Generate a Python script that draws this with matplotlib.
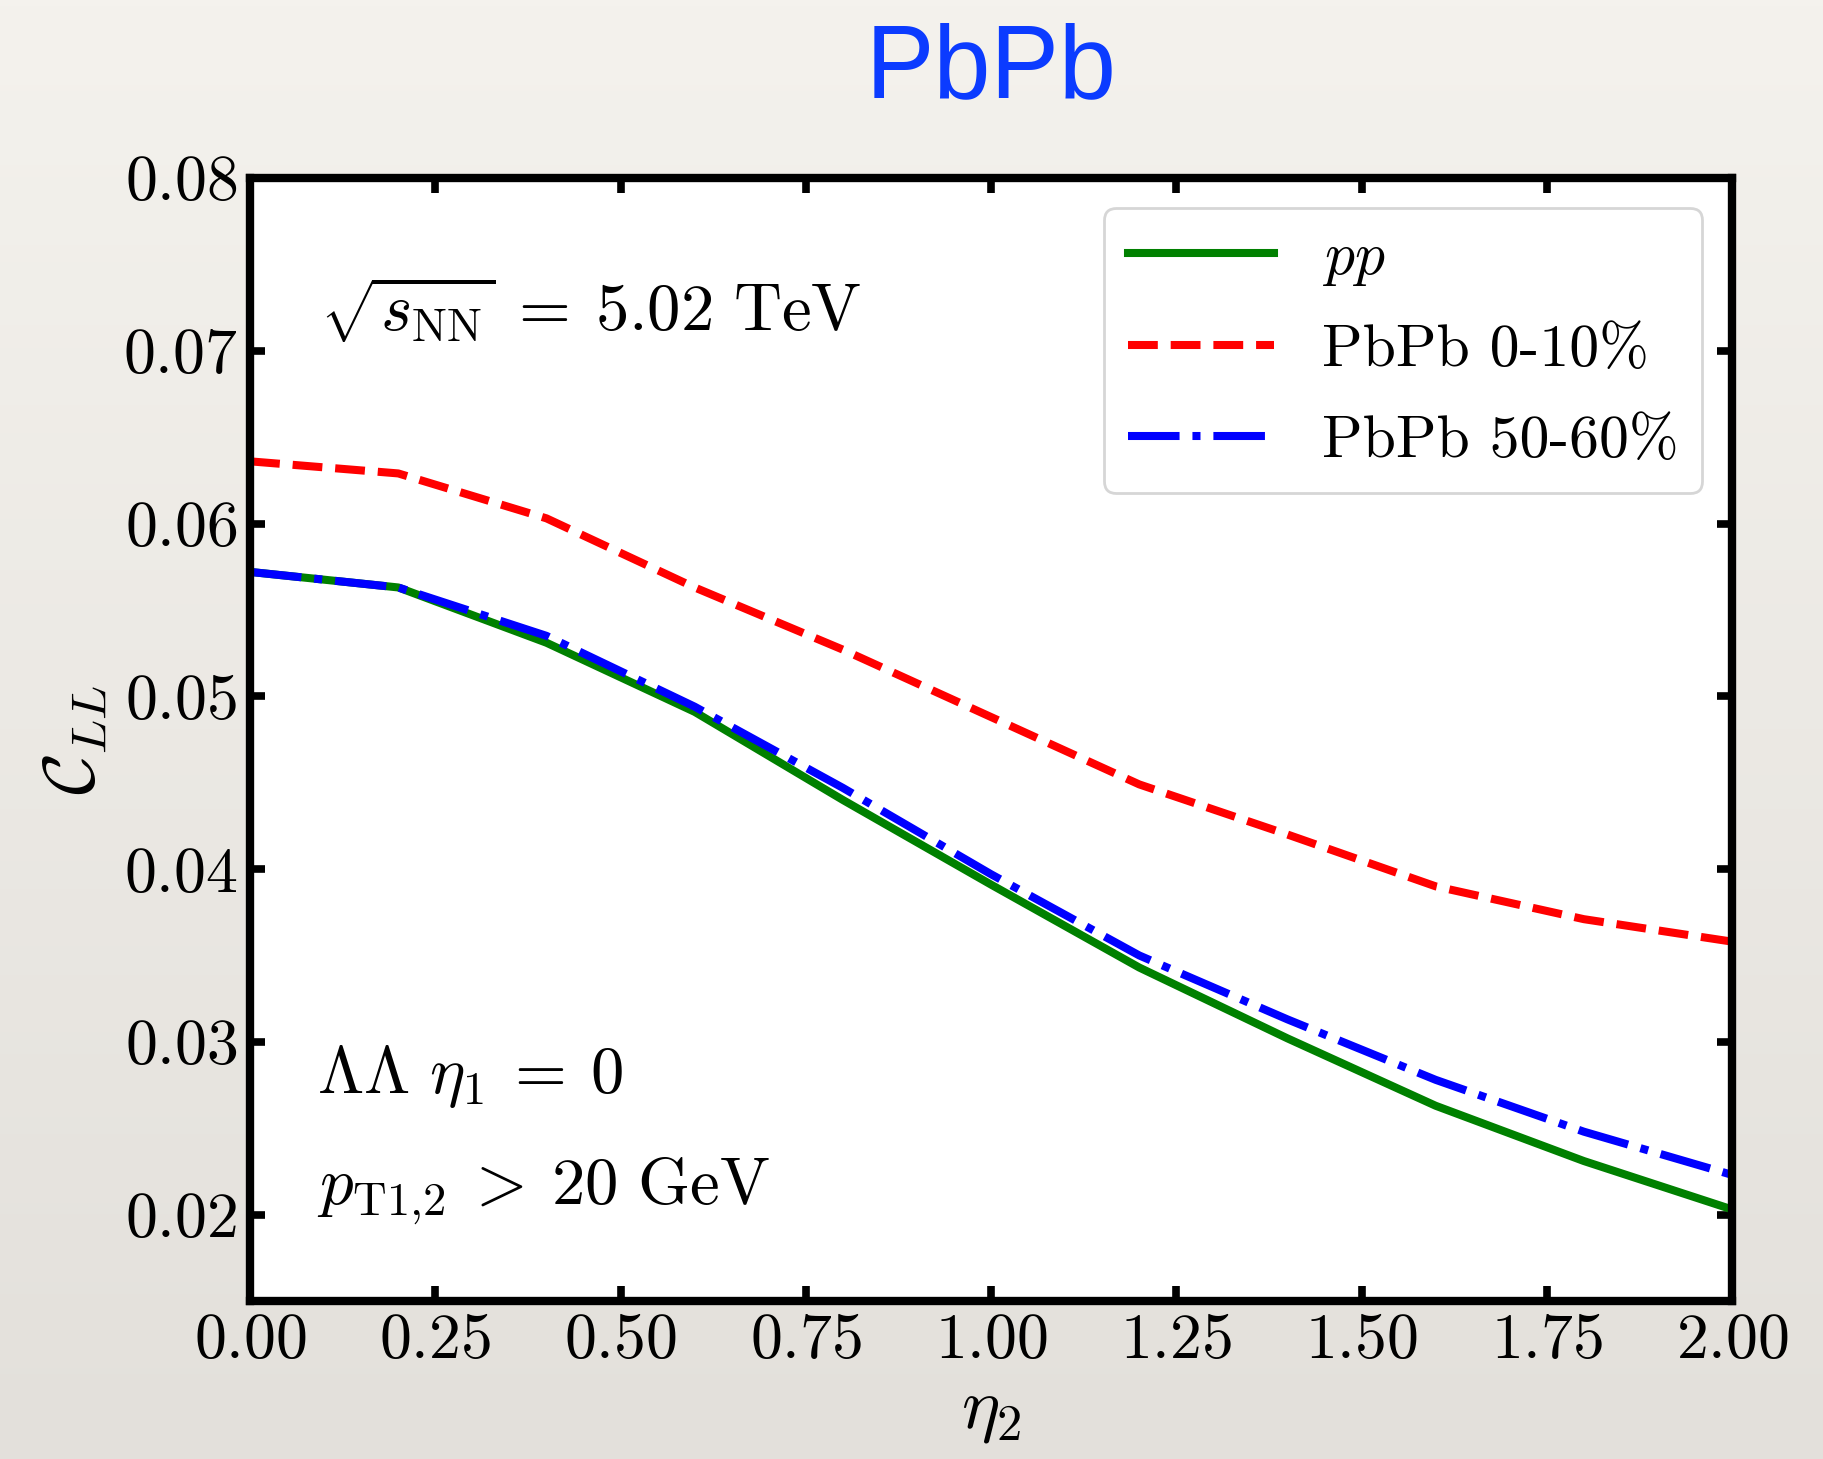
import numpy as np
import matplotlib
matplotlib.use('Agg')
import matplotlib.pyplot as plt
from matplotlib.colors import LinearSegmentedColormap

plt.rcParams['font.family'] = 'serif'
plt.rcParams['font.serif'] = ['cmr10']
plt.rcParams['mathtext.fontset'] = 'cm'
plt.rcParams['axes.formatter.use_mathtext'] = True

# eta_2 grid and C_LL values
eta2 = [0.0, 0.2, 0.4, 0.6, 0.8, 1.0, 1.2, 1.4, 1.6, 1.8, 2.0]
cll_pp = [0.0572, 0.0563, 0.0531, 0.0491, 0.0440, 0.0391, 0.0343, 0.0302, 0.0263, 0.0231, 0.0203]
cll_0_10 = [0.0636, 0.0629, 0.0603, 0.0563, 0.0527, 0.0488, 0.0449, 0.0420, 0.0390, 0.0371, 0.0358]
cll_50_60 = [0.0572, 0.0563, 0.0535, 0.0494, 0.0447, 0.0397, 0.0350, 0.0313, 0.0278, 0.0248, 0.0223]

labels = [r'$pp$', 'PbPb 0-10%', 'PbPb 50-60%']

fig = plt.figure(figsize=(18.24, 14.59), dpi=100)

# paper-like background
bg = fig.add_axes([0, 0, 1, 1], zorder=-1)
paper = LinearSegmentedColormap.from_list('paper', ['#e3e0db', '#f4f2ed'])
bg.imshow(np.linspace(1, 0, 256).reshape(-1, 1), aspect='auto', cmap=paper,
          extent=[0, 1, 0, 1])
bg.axis('off')

ax = fig.add_axes([0.1371, 0.1083, 0.8125, 0.7697])
ax.set_facecolor('white')

lw = 5.8
ax.plot(eta2, cll_pp, color='green', lw=lw, ls='-', label=labels[0])
ax.plot(eta2, cll_0_10, color='red', lw=lw, ls='--', label=labels[1])
ax.plot(eta2, cll_50_60, color='blue', lw=lw, ls='-.', label=labels[2])

ax.set_xlim(0, 2)
ax.set_ylim(0.015, 0.08)
ax.set_xticks(np.arange(0, 2.01, 0.25))
ax.set_yticks([0.02, 0.03, 0.04, 0.05, 0.06, 0.07, 0.08])

for s in ax.spines.values():
    s.set_linewidth(6)
ax.tick_params(direction='in', top=True, right=True, length=11, width=5.5,
               labelsize=46, pad=9)

ax.set_xlabel(r'$\eta_2$', fontsize=52, labelpad=6)
ax.set_ylabel(r'$\mathcal{C}_{LL}$', fontsize=52, labelpad=10)

ax.text(0.047, 0.864, r'$\sqrt{s_{\rm NN}}\:=\:5.02\ {\rm TeV}$', transform=ax.transAxes,
        fontsize=48, va='baseline')
ax.text(0.045, 0.185, r'$\Lambda\Lambda\ \eta_1\:=\:0$', transform=ax.transAxes,
        fontsize=48, va='baseline')
ax.text(0.045, 0.086, r'$p_{\rm T1{,}2}\:>\:20\ {\rm GeV}$', transform=ax.transAxes,
        fontsize=48, va='baseline')

leg = ax.legend(loc='upper right', fontsize=43, handlelength=2.45,
                handletextpad=0.8, labelspacing=0.62, fancybox=True)
leg.get_frame().set_edgecolor('#cccccc')
leg.get_frame().set_linewidth(2)

fig.text(0.5433, 0.9335, 'PbPb', ha='center', va='baseline', fontsize=74,
         family='Liberation Sans', color='#0b3bff')

fig.savefig('out.png', dpi=100)
